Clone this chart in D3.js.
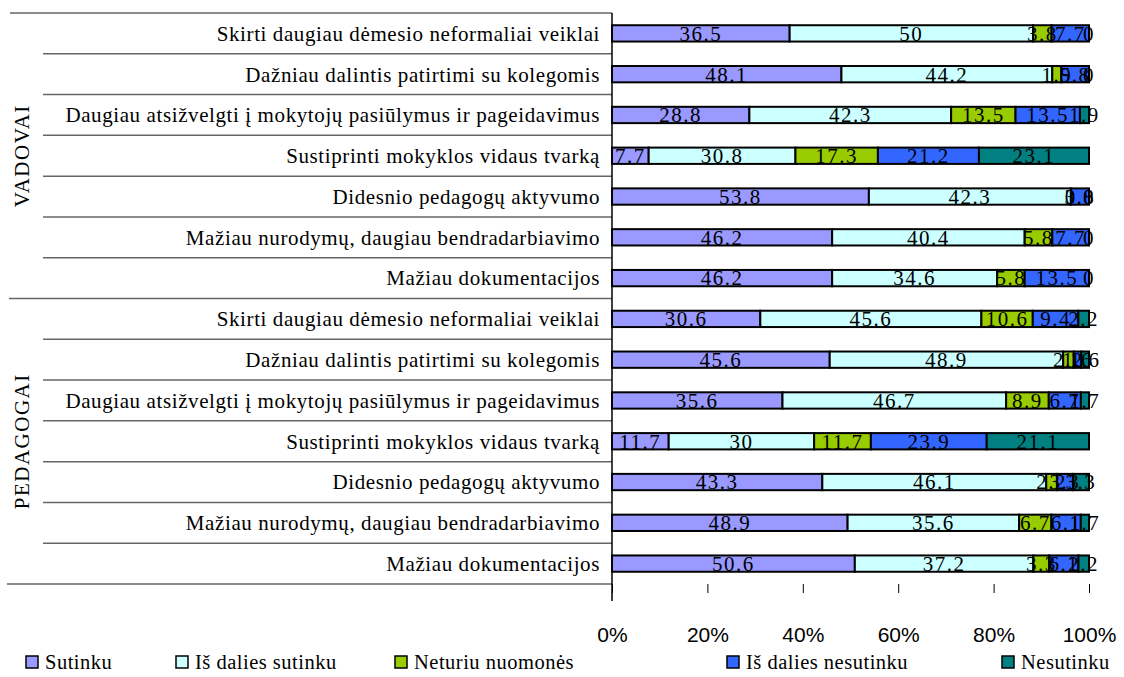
<!DOCTYPE html>
<html>
<head>
<meta charset="utf-8">
<script src="https://cdn.jsdelivr.net/npm/d3@7"></script>
<style>
  body { margin: 0; background: #fff; }
  svg { display: block; }
  .serif { font-family: "Liberation Serif", "DejaVu Serif", serif; }
</style>
</head>
<body>
<div id="chart"></div>
<script>
// data
var groups = ["VADOVAI", "PEDAGOGAI"];
var categories = [
  "Skirti daugiau dėmesio neformaliai veiklai",
  "Dažniau dalintis patirtimi su kolegomis",
  "Daugiau atsižvelgti į mokytojų pasiūlymus ir pageidavimus",
  "Sustiprinti mokyklos vidaus tvarką",
  "Didesnio pedagogų aktyvumo",
  "Mažiau nurodymų, daugiau bendradarbiavimo",
  "Mažiau dokumentacijos"
];
var seriesNames = ["Sutinku", "Iš dalies sutinku", "Neturiu nuomonės", "Iš dalies nesutinku", "Nesutinku"];
var colors = ["#9999ff", "#ccffff", "#99cc00", "#3366ff", "#008080"];

var vadovai = {
  "Sutinku":             [36.5, 48.1, 28.8, 7.7, 53.8, 46.2, 46.2],
  "Iš dalies sutinku":   [50, 44.2, 42.3, 30.8, 42.3, 40.4, 34.6],
  "Neturiu nuomonės":    [3.8, 1.9, 13.5, 17.3, 0, 5.8, 5.8],
  "Iš dalies nesutinku": [7.7, 5.8, 13.5, 21.2, 3.8, 7.7, 13.5],
  "Nesutinku":           [0, 0, 1.9, 23.1, 0, 0, 0]
};
var pedagogai = {
  "Sutinku":             [30.6, 45.6, 35.6, 11.7, 43.3, 48.9, 50.6],
  "Iš dalies sutinku":   [45.6, 48.9, 46.7, 30, 46.1, 35.6, 37.2],
  "Neturiu nuomonės":    [10.6, 2.2, 8.9, 11.7, 2.2, 6.7, 3.3],
  "Iš dalies nesutinku": [9.4, 1.6, 6.7, 23.9, 3.3, 6.1, 6.1],
  "Nesutinku":           [2.2, 1.6, 1.7, 21.1, 3.3, 1.7, 2.2]
};
var tickValues = [0, 0.2, 0.4, 0.6, 0.8, 1];

// build rows
var rows = [];
[vadovai, pedagogai].forEach(function(g, gi){
  categories.forEach(function(c, ci){
    var r = {key: groups[gi] + ci, label: c, group: groups[gi]};
    seriesNames.forEach(function(s){ r[s] = g[s][ci]; });
    rows.push(r);
  });
});

var width = 1124, height = 677;
var svg = d3.select("#chart").append("svg")
    .attr("width", width)
    .attr("height", height);

var x = d3.scaleLinear().domain([0, 1]).range([612, 1089]);
var y = d3.scaleBand()
    .domain(rows.map(function(d){ return d.key; }))
    .range([13, 584])
    .paddingInner(0.6)
    .paddingOuter(0.3);

var stack = d3.stack().keys(seriesNames).offset(d3.stackOffsetExpand);
var stacked = stack(rows);

// separator lines on the left
var step = y.step();
var lineG = svg.append("g").attr("stroke", "#666").attr("stroke-width", 1.5);
for (var i = 0; i <= rows.length; i++) {
  var yy = 13 + i * step;
  var x0 = 43;
  if (i == 0) x0 = 10;
  if (i == categories.length) x0 = 9;
  if (i == rows.length) x0 = 7;
  lineG.append("line")
      .attr("x1", x0).attr("x2", 612)
      .attr("y1", yy).attr("y2", yy);
}

// group labels
groups.forEach(function(g, gi){
  var cy = 13 + step * categories.length * (gi + 0.5);
  svg.append("text")
      .attr("class", "serif")
      .attr("transform", "translate(29," + cy + ") rotate(-90)")
      .attr("text-anchor", "middle")
      .style("font-size", "21px")
      .style("letter-spacing", "1.5px")
      .text(g);
});

// category labels
svg.append("g").selectAll("text")
    .data(rows)
    .enter()
  .append("text")
    .attr("class", "serif")
    .attr("x", 600)
    .attr("y", function(d){ return y(d.key) + y.bandwidth() / 2; })
    .attr("dy", "0.35em")
    .attr("text-anchor", "end")
    .style("font-size", "21px")
    .style("letter-spacing", "0.6px")
    .text(function(d){ return d.label; });

// bars
var layers = svg.append("g").selectAll("g")
    .data(stacked)
    .enter()
  .append("g")
    .attr("fill", function(d, i){ return colors[i]; });

layers.selectAll("rect")
    .data(function(d){ return d; })
    .enter()
  .append("rect")
    .attr("x", function(d){ return x(d[0]); })
    .attr("y", function(d){ return y(d.data.key); })
    .attr("width", function(d){ return x(d[1]) - x(d[0]); })
    .attr("height", y.bandwidth())
    .attr("stroke", "#000")
    .attr("stroke-width", 2);

// value labels
var labG = svg.append("g");
stacked.forEach(function(layer){
  labG.selectAll(null)
      .data(layer)
      .enter()
    .append("text")
      .attr("class", "serif")
      .attr("x", function(d){ return (x(d[0]) + x(d[1])) / 2; })
      .attr("y", function(d){ return y(d.data.key) + y.bandwidth() / 2; })
      .attr("dy", "0.35em")
      .attr("text-anchor", "middle")
      .style("font-size", "21px")
      .style("letter-spacing", "1.5px")
      .text(function(d){ return String(d.data[layer.key]); });
});

// vertical axis line
svg.append("line")
    .attr("x1", 612).attr("x2", 612)
    .attr("y1", 13).attr("y2", 601)
    .attr("stroke", "#000").attr("stroke-width", 1.5);

// x axis
var xAxis = d3.axisBottom(x)
    .tickValues(tickValues)
    .tickFormat(d3.format(".0%"))
    .tickSize(9)
    .tickPadding(34);
var ax = svg.append("g")
    .attr("transform", "translate(0,584)")
    .call(xAxis);
ax.select(".domain").remove();
ax.selectAll("line").attr("stroke", "#000");
ax.selectAll("text")
    .style("font-family", "'Liberation Sans', Arial, sans-serif")
    .style("font-size", "21px")
    .attr("fill", "#000");

// legend
var legendX = [26, 176, 395, 727, 1002];
var leg = svg.append("g").selectAll("g")
    .data(seriesNames)
    .enter()
  .append("g")
    .attr("transform", function(d, i){ return "translate(" + legendX[i] + ",662)"; });
leg.append("rect")
    .attr("x", 0).attr("y", -6)
    .attr("width", 12).attr("height", 12)
    .attr("fill", function(d, i){ return colors[i]; })
    .attr("stroke", "#000").attr("stroke-width", 1.5);
leg.append("text")
    .attr("class", "serif")
    .attr("x", 19)
    .attr("dy", "0.35em")
    .style("font-size", "20.5px")
    .style("letter-spacing", "0.5px")
    .text(function(d){ return d; });
</script>
</body>
</html>
